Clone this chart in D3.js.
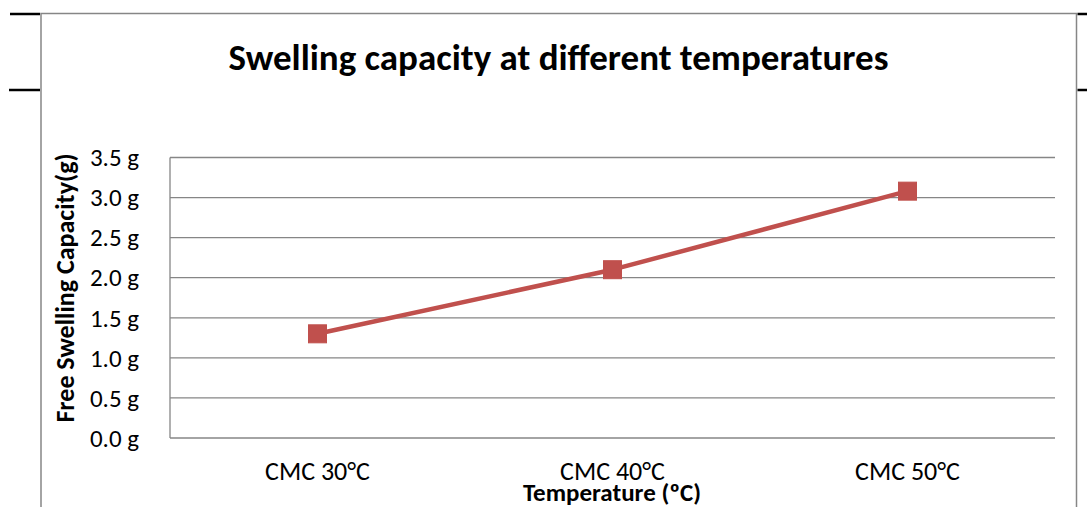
<!DOCTYPE html>
<html><head><meta charset="utf-8">
<script src="https://cdn.jsdelivr.net/npm/d3@7"></script>
<style>body{margin:0;background:#fff;}svg{display:block;}</style>
</head><body>
<svg id="c" width="1087" height="507"></svg>
<script>
const categories = ["CMC 30°C", "CMC 40°C", "CMC 50°C"];
const values = [1.30, 2.10, 3.08];
const yTicks = [0, 0.5, 1.0, 1.5, 2.0, 2.5, 3.0, 3.5];
const title = "Swelling capacity at different temperatures";
const xTitle = "Temperature (ºC)";
const yTitle = "Free Swelling Capacity(g)";

const svg = d3.select("#c");
const font = "Carlito, 'Open Sans', 'Liberation Sans', sans-serif";
const L = 170, R = 1055, T = 157.5, B = 438;

// frame
svg.append("rect").attr("x", 41).attr("y", 13.5).attr("width", 1035.5).attr("height", 520)
  .attr("fill", "#fff").attr("stroke", "#868686").attr("stroke-width", 1.5);
// black side lines
[[10, 14], [9, 90]].forEach(([x0, y]) => svg.append("line").attr("x1", x0).attr("x2", 40).attr("y1", y).attr("y2", y).attr("stroke", "#000").attr("stroke-width", 2.5));
[14, 90].forEach(y => svg.append("line").attr("x1", 1077.5).attr("x2", 1087).attr("y1", y).attr("y2", y).attr("stroke", "#000").attr("stroke-width", 2.5));

const x = d3.scaleBand().domain(categories).range([L, R]);
const y = d3.scaleLinear().domain([0, 3.5]).range([B, T]);

// gridlines
svg.append("g").selectAll("line").data(yTicks).join("line")
  .attr("x1", L).attr("x2", R).attr("y1", d => y(d)).attr("y2", d => y(d))
  .attr("stroke", "#868686").attr("stroke-width", 1.3);
// y axis line
svg.append("line").attr("x1", L).attr("x2", L).attr("y1", T).attr("y2", B).attr("stroke", "#868686").attr("stroke-width", 1.3);

// y tick labels
svg.append("g").selectAll("text").data(yTicks).join("text")
  .attr("x", 139).attr("y", d => y(d)).attr("dy", "0.35em").attr("text-anchor", "end")
  .attr("font-family", font).attr("font-size", 25).attr("fill", "#000")
  .text(d => d.toFixed(1) + " g");

// x tick labels
svg.append("g").selectAll("text").data(categories).join("text")
  .attr("x", d => x(d) + x.bandwidth() / 2).attr("y", 480).attr("text-anchor", "middle")
  .attr("font-family", font).attr("font-size", 26).attr("fill", "#000")
  .text(d => d);

// line
const pts = categories.map((c, i) => [x(c) + x.bandwidth() / 2, y(values[i])]);
svg.append("path").attr("d", d3.line()(pts)).attr("fill", "none")
  .attr("stroke", "#C0504D").attr("stroke-width", 4.5).attr("stroke-linejoin", "round");
svg.append("g").selectAll("rect").data(pts).join("rect")
  .attr("x", d => d[0] - 9).attr("y", d => d[1] - 9).attr("width", 18).attr("height", 18)
  .attr("fill", "#C0504D").attr("stroke", "#C0504D").attr("stroke-width", 1);

// titles
svg.append("text").attr("x", 558.5).attr("y", 70).attr("text-anchor", "middle")
  .attr("font-family", font).attr("font-size", 37).attr("font-weight", "bold").text(title);
svg.append("text").attr("x", 612).attr("y", 501).attr("text-anchor", "middle")
  .attr("font-family", font).attr("font-size", 25).attr("font-weight", "bold").text(xTitle);
svg.append("text").attr("transform", "translate(74,288) rotate(-90)").attr("text-anchor", "middle")
  .attr("font-family", font).attr("font-size", 26).attr("font-weight", "bold").text(yTitle);
</script>
</body></html>
